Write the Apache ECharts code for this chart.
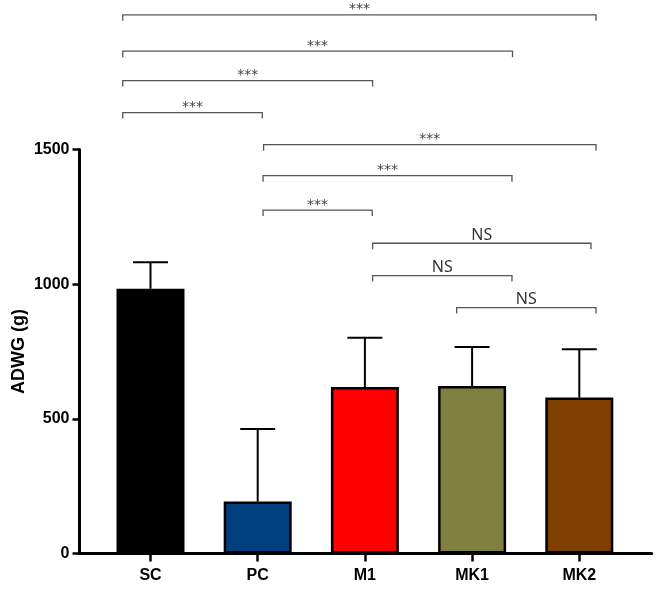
<!DOCTYPE html>
<html>
<head>
<meta charset="utf-8">
<script src="https://cdn.jsdelivr.net/npm/echarts@6/dist/echarts.min.js"></script>
<style>
html,body{margin:0;padding:0;background:#fff;}
#chart{width:661px;height:590px;}
</style>
</head>
<body>
<div id="chart"></div>
<script>
// ---- data ----
var categories = ['SC', 'PC', 'M1', 'MK1', 'MK2'];
var means = [983, 193, 618, 622, 579];
var sds = [98, 269, 183, 145, 179];
var barColors = ['#000000', '#003f7f', '#ff0000', '#7f7f3f', '#7f3f00'];
var yTicks = [0, 500, 1000, 1500];

// significance brackets (positions in category-index units, heights in y units)
var bracketFrom  = [-0.259, -0.259, -0.259, -0.259, 1.055, 1.050, 1.050, 2.072, 2.072, 2.856];
var bracketTo    = [ 4.156,  3.377,  2.072,  1.043, 4.156, 3.372, 2.068, 4.109, 3.372, 4.156];
var bracketY     = [ 2000,   1865,   1756,   1637,  1518,  1403,  1275,  1152,  1032,  913];
var bracketLabel = ['***', '***', '***', '***', '***', '***', '***', 'NS', 'NS', 'NS'];

var chart = echarts.init(document.getElementById('chart'), null, {renderer: 'canvas'});

var barData = categories.map(function (c, i) {
  return {value: [i, means[i]], itemStyle: {color: barColors[i]}};
});
var errData = categories.map(function (c, i) { return [i, means[i], means[i] + sds[i]]; });
var brData = bracketFrom.map(function (f, i) { return [f, bracketTo[i], bracketY[i]]; });

var option = {
  backgroundColor: '#fff',
  animation: false,
  grid: {left: 79.5, right: 9.3, top: 149.5, bottom: 36.5, containLabel: false, outerBoundsMode: 'none'},
  xAxis: {
    type: 'value',
    min: -0.6623,
    max: 4.6754,
    splitLine: {show: false},
    axisLine: {show: true, onZero: false, lineStyle: {color: '#000', width: 3}},
    axisTick: {show: true, customValues: [0, 1, 2, 3, 4], length: 8, lineStyle: {color: '#000', width: 2.5}},
    axisLabel: {
      customValues: [0, 1, 2, 3, 4],
      margin: 14,
      color: '#000',
      fontFamily: 'Liberation Sans, Arial, sans-serif',
      fontWeight: 'bold',
      fontSize: 16,
      formatter: function (v) { return categories[Math.round(v)] || ''; }
    }
  },
  yAxis: {
    type: 'value',
    min: 0,
    max: 1500,
    interval: 500,
    name: 'ADWG (g)',
    nameLocation: 'middle',
    nameGap: 51,
    nameMoveOverlap: false,
    nameTextStyle: {color: '#000', fontFamily: 'Liberation Sans, Arial, sans-serif', fontWeight: 'bold', fontSize: 18},
    splitLine: {show: false},
    axisLine: {show: true, onZero: false, lineStyle: {color: '#000', width: 3}},
    axisTick: {show: true, length: 7, lineStyle: {color: '#000', width: 2.5}},
    axisLabel: {
      margin: 10,
      color: '#000',
      fontFamily: 'Liberation Sans, Arial, sans-serif',
      fontWeight: 'bold',
      fontSize: 16,
      formatter: function (v) { return yTicks.indexOf(v) >= 0 ? String(v) : ''; }
    }
  },
  series: [
    {
      type: 'custom',
      z: 1,
      clip: false,
      data: errData,
      encode: {x: 0, y: [1, 2]},
      renderItem: function (params, api) {
        var p0 = api.coord([api.value(0), api.value(1)]);
        var p1 = api.coord([api.value(0), api.value(2)]);
        return {
          type: 'group',
          children: [
            {type: 'line', shape: {x1: p0[0], y1: p0[1], x2: p1[0], y2: p1[1]}, style: {stroke: '#000', lineWidth: 2}},
            {type: 'line', shape: {x1: p1[0] - 17.5, y1: p1[1], x2: p1[0] + 17.5, y2: p1[1]}, style: {stroke: '#000', lineWidth: 2}}
          ]
        };
      }
    },
    {
      type: 'bar',
      z: 2,
      barWidth: 68,
      data: barData,
      itemStyle: {borderColor: '#000', borderWidth: 2.5}
    },
    {
      type: 'custom',
      z: 3,
      clip: false,
      data: brData,
      encode: {x: [0, 1], y: 2},
      renderItem: function (params, api) {
        var a = api.coord([api.value(0), api.value(2)]);
        var b = api.coord([api.value(1), api.value(2)]);
        var lab = bracketLabel[params.dataIndex];
        var isNS = lab === 'NS';
        var drop = 6;
        return {
          type: 'group',
          children: [
            {type: 'polyline', shape: {points: [[a[0], a[1] + drop], [a[0], a[1]], [b[0], b[1]], [b[0], b[1] + drop]]},
              style: {stroke: '#555', lineWidth: 1.3, fill: null}},
            {type: 'text', x: (a[0] + b[0]) / 2, y: a[1] + (isNS ? 0 : 2),
              style: {
                text: lab,
                fill: isNS ? '#333' : '#444',
                fontFamily: isNS ? 'Noto Sans, DejaVu Sans, sans-serif' : 'DejaVu Sans, sans-serif',
                fontSize: isNS ? 16 : 14,
                align: 'center',
                verticalAlign: 'bottom'
              }}
          ]
        };
      }
    }
  ]
};
chart.setOption(option);
</script>
</body>
</html>
